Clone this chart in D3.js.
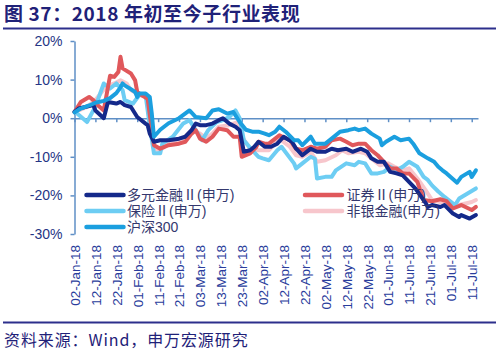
<!DOCTYPE html>
<html><head><meta charset="utf-8">
<script src="https://cdn.jsdelivr.net/npm/d3@7"></script>
<style>
body{margin:0;background:#fff;}
svg{display:block;}
</style></head>
<body><svg id="c" width="499" height="356"></svg>
<script>
// ---- data (percent change since start of 2018) ----
const xTickLabels = ["02-Jan-18","12-Jan-18","22-Jan-18","01-Feb-18","11-Feb-18","21-Feb-18","03-Mar-18","13-Mar-18","23-Mar-18","02-Apr-18","12-Apr-18","22-Apr-18","02-May-18","12-May-18","22-May-18","01-Jun-18","11-Jun-18","21-Jun-18","01-Jul-18","11-Jul-18"];
const yTicks = [-30,-20,-10,0,10,20];
const seriesNames = ["多元金融Ⅱ(申万)","证券Ⅱ(申万)","保险Ⅱ(申万)","非银金融(申万)","沪深300"];
const seriesColors = ["#14298a","#e0585b","#6dcdf3","#f7c6cc","#1b9fdf"];

const duoyuan = [["01-02",1.6],["01-04",2.5],["01-11",3.4],["01-12",2.0],["01-16",0],["01-18",4.2],["01-22",3.8],["01-24",4.2],["01-26",3.4],["01-29",2.9],["02-01",0.3],["02-05",-1.4],["02-06",-1.8],["02-07",-4.0],["02-09",-6.1],["02-12",-5.7],["02-16",-5.7],["02-21",-5.3],["02-24",-4.8],["02-27",-3.1],["03-01",-1.4],["03-03",-1.8],["03-06",-1.8],["03-09",-1.4],["03-12",-0.5],["03-14",0],["03-17",-1.4],["03-20",-2.2],["03-22",-3.1],["03-24",-8.7],["03-27",-8.3],["03-29",-7.4],["03-31",-6.1],["04-03",-7.4],["04-06",-7.4],["04-09",-6.6],["04-12",-4.8],["04-16",-6.1],["04-18",-7.9],["04-21",-9.6],["04-25",-7.9],["04-28",-8.7],["05-02",-8.7],["05-05",-7.9],["05-08",-8.3],["05-12",-7.9],["05-15",-8.7],["05-19",-7.9],["05-22",-8.7],["05-24",-10.4],["05-27",-11.3],["05-30",-11.3],["06-02",-13.9],["06-05",-14.3],["06-08",-14.8],["06-11",-16.5],["06-14",-18.2],["06-19",-22.0],["06-20",-23.0],["06-22",-22.5],["06-26",-23.0],["06-28",-22.5],["07-02",-24.7],["07-05",-25.6],["07-06",-25.1],["07-10",-26.0],["07-13",-25.1]];

const zhengquan = [["01-02",1.6],["01-05",4.2],["01-09",5.5],["01-11",4.7],["01-13",3.4],["01-16",2.0],["01-19",11.0],["01-21",10.7],["01-23",12.0],["01-24",15.9],["01-25",12.9],["01-29",11.6],["01-31",9.8],["02-01",6.8],["02-03",6.0],["02-06",5.0],["02-09",-7.0],["02-12",-7.9],["02-16",-7.0],["02-21",-6.6],["02-24",-6.1],["02-27",-4.0],["03-01",-3.1],["03-03",-5.3],["03-06",-6.1],["03-09",-4.8],["03-12",-2.7],["03-16",-3.1],["03-19",-4.8],["03-22",-4.8],["03-23",-10.0],["03-27",-9.1],["03-30",-7.4],["03-31",-6.1],["04-03",-6.6],["04-05",-6.6],["04-10",-4.4],["04-15",-5.7],["04-18",-7.9],["04-21",-8.3],["04-25",-7.4],["04-28",-7.9],["05-02",-7.4],["05-05",-5.7],["05-09",-5.3],["05-12",-6.1],["05-15",-7.0],["05-18",-6.6],["05-21",-6.6],["05-24",-8.3],["05-27",-9.6],["05-30",-11.3],["06-02",-13.0],["06-05",-13.0],["06-08",-14.3],["06-11",-14.3],["06-15",-16.5],["06-18",-21.2],["06-22",-21.5],["06-26",-21.0],["06-29",-21.5],["07-02",-23.4],["07-06",-22.5],["07-11",-23.8],["07-13",-23.0]];

const baoxian = [["01-02",1.8],["01-08",-1.0],["01-12",3.0],["01-16",9.0],["01-19",7.7],["01-22",9.0],["01-25",7.3],["01-26",4.7],["01-30",3.8],["02-02",6.0],["02-05",6.0],["02-07",-2.0],["02-09",-9.1],["02-12",-9.1],["02-13",-6.6],["02-18",-4.8],["02-23",-1.4],["02-26",-0.5],["03-01",-3.1],["03-04",-5.7],["03-07",-3.1],["03-11",-1.0],["03-14",-0.5],["03-17",0.3],["03-20",2.0],["03-22",0],["03-24",-5.7],["03-28",-8.3],["03-31",-10.0],["04-02",-10.4],["04-05",-10.9],["04-09",-8.3],["04-11",-7.4],["04-17",-11.7],["04-18",-13.0],["04-21",-11.7],["04-25",-10.0],["04-27",-10.5],["04-28",-15.6],["05-02",-15.2],["05-05",-15.2],["05-07",-13.5],["05-12",-11.7],["05-16",-12.2],["05-18",-11.3],["05-21",-11.7],["05-24",-14.3],["05-27",-14.3],["05-30",-13.9],["06-02",-12.6],["06-05",-13.5],["06-08",-12.6],["06-11",-11.3],["06-15",-12.6],["06-18",-15.2],["06-20",-16.0],["06-22",-17.4],["06-25",-19.0],["06-28",-20.4],["07-03",-22.5],["07-05",-20.8],["07-09",-19.5],["07-13",-18.2]];

const feiyin = [["01-02",1.6],["01-08",2.9],["01-12",4.7],["01-17",8.1],["01-21",9.0],["01-24",9.8],["01-27",9.0],["01-29",7.3],["02-02",6.0],["02-06",5.5],["02-09",-7.9],["02-12",-8.3],["02-15",-7.0],["02-20",-6.1],["02-24",-4.8],["02-27",-3.1],["03-03",-4.0],["03-06",-5.3],["03-09",-4.0],["03-12",-2.2],["03-17",-1.8],["03-21",-1.0],["03-23",-4.8],["03-27",-7.9],["03-31",-8.3],["04-05",-8.3],["04-10",-5.3],["04-15",-7.4],["04-18",-9.6],["04-21",-10.0],["04-25",-8.7],["04-28",-11.3],["05-02",-10.9],["05-07",-9.6],["05-10",-8.3],["05-13",-9.1],["05-18",-8.7],["05-21",-9.1],["05-25",-10.9],["05-28",-12.2],["06-01",-11.7],["06-04",-12.6],["06-08",-13.5],["06-11",-13.0],["06-15",-15.6],["06-19",-18.7],["06-22",-21.2],["06-28",-22.0],["07-05",-22.5],["07-11",-21.7],["07-13",-21.2]];

const hs300 = [["01-02",1.5],["01-05",2.5],["01-09",3.3],["01-12",4.0],["01-16",4.5],["01-19",5.2],["01-22",6.5],["01-24",8.0],["01-25",9.0],["01-26",8.5],["01-29",7.5],["01-31",6.8],["02-01",5.5],["02-02",6.4],["02-05",6.4],["02-07",5.5],["02-08",1.0],["02-09",-4.8],["02-12",-3.0],["02-16",-1.3],["02-21",0],["02-26",2.0],["03-01",0.3],["03-06",0],["03-09",2.0],["03-12",2.3],["03-16",1.2],["03-19",1.6],["03-22",-1.0],["03-25",-3.0],["03-28",-3.5],["03-31",-3.5],["04-03",-4.0],["04-05",-4.4],["04-08",-3.5],["04-10",-2.2],["04-13",-3.5],["04-17",-5.7],["04-19",-5.7],["04-21",-7.0],["04-25",-4.8],["04-27",-6.6],["05-02",-6.6],["05-05",-5.3],["05-09",-3.5],["05-13",-3.1],["05-16",-2.7],["05-18",-3.1],["05-21",-2.7],["05-24",-4.0],["05-28",-5.3],["05-29",-7.0],["05-31",-6.1],["06-04",-4.8],["06-07",-5.7],["06-11",-5.3],["06-13",-6.6],["06-16",-9.1],["06-20",-10.4],["06-23",-11.3],["06-25",-12.6],["06-27",-13.5],["06-29",-14.3],["07-04",-16.7],["07-06",-15.2],["07-10",-13.9],["07-11",-15.2],["07-13",-13.5]];

const seriesData = [duoyuan, zhengquan, baoxian, feiyin, hs300];
const drawOrder = [3, 2, 1, 0, 4];
const legendPos = [[0,0],[1,0],[0,1],[1,1],[0,2]];

// ---- drawing ----
const svg = d3.select("#c");
const parseD = d3.timeParse("%Y-%m-%d");
const parseTick = d3.timeParse("%d-%b-%y");
const navy = "#1f2178";
const axisCol = "#5f8fc6";

const x = d3.scaleTime().domain([parseD("2018-01-02"), parseD("2018-07-14")]).range([74.5, 478]);
const y = d3.scaleLinear().domain([-30, 20]).range([234, 41]);

// title
svg.append("text").attr("x", 4).attr("y", 21)
  .attr("font-family", "'Noto Sans CJK SC', sans-serif").attr("font-weight", "bold")
  .attr("font-size", 19).attr("letter-spacing", 0.6).attr("fill", navy)
  .text("图 37：2018 年初至今子行业表现");
svg.append("line").attr("x1", 3).attr("x2", 496).attr("y1", 28.5).attr("y2", 28.5)
  .attr("stroke", "#2c2f8c").attr("stroke-width", 2);

// footer
svg.append("line").attr("x1", 3).attr("x2", 496).attr("y1", 322.5).attr("y2", 322.5)
  .attr("stroke", "#2c2f8c").attr("stroke-width", 2);
svg.append("text").attr("x", 4).attr("y", 346)
  .attr("font-family", "'Noto Sans CJK SC', sans-serif")
  .attr("font-size", 16).attr("letter-spacing", 0.9).attr("fill", navy)
  .text("资料来源：Wind，申万宏源研究");

// y axis
const yAxis = svg.append("g").attr("transform", "translate(74.5,0)")
  .call(d3.axisLeft(y).tickValues(yTicks).tickSize(4).tickSizeOuter(0).tickPadding(8).tickFormat(d => d + "%"));
yAxis.select(".domain").attr("stroke", axisCol).attr("stroke-width", 1.5);
yAxis.selectAll(".tick line").attr("stroke", axisCol).attr("stroke-width", 1.5);
yAxis.selectAll(".tick text").attr("font-family", "'Liberation Sans', Arial, sans-serif")
  .attr("font-size", 14).attr("fill", "#253585");

// x axis at 0%
const xTickDates = xTickLabels.map(parseTick);
const xAxis = svg.append("g").attr("transform", `translate(0,${y(0)})`)
  .call(d3.axisBottom(x).tickValues(xTickDates).tickSize(4).tickSizeOuter(0).tickFormat((d, i) => xTickLabels[i]));
xAxis.select(".domain").attr("stroke", axisCol).attr("stroke-width", 1.5);
xAxis.selectAll(".tick line").attr("stroke", axisCol).attr("stroke-width", 1.5);
xAxis.selectAll(".tick text")
  .attr("font-family", "'Liberation Sans', Arial, sans-serif").attr("font-size", 13.5)
  .attr("fill", "#2a3d9c").attr("text-anchor", "end")
  .attr("x", 0).attr("y", 0).attr("dy", "0.36em")
  .attr("transform", `translate(0,${245 - y(0)}) rotate(-90)`);

// lines
const line = d3.line().x(d => x(parseD("2018-" + d[0]))).y(d => y(d[1]));
drawOrder.forEach(i => {
  svg.append("path").datum(seriesData[i]).attr("d", line)
    .attr("fill", "none").attr("stroke", seriesColors[i]).attr("stroke-width", 4)
    .attr("stroke-linejoin", "round").attr("stroke-linecap", "round");
});

// legend
const colX = [[86.5, 123.5, 127], [305, 342, 346.5]];
const rowY = [195, 211, 227];
const lg = svg.append("g");
seriesNames.forEach((name, i) => {
  const [c, r] = legendPos[i];
  lg.append("line").attr("x1", colX[c][0]).attr("x2", colX[c][1]).attr("y1", rowY[r]).attr("y2", rowY[r])
    .attr("stroke", seriesColors[i]).attr("stroke-width", 4.5).attr("stroke-linecap", "round");
  lg.append("text").attr("x", colX[c][2]).attr("y", rowY[r]).attr("dy", "0.36em")
    .attr("font-family", "'Liberation Sans', 'Noto Sans CJK SC', sans-serif").attr("font-size", 14)
    .attr("fill", "#34386e").text(name);
});
</script>
</body></html>
